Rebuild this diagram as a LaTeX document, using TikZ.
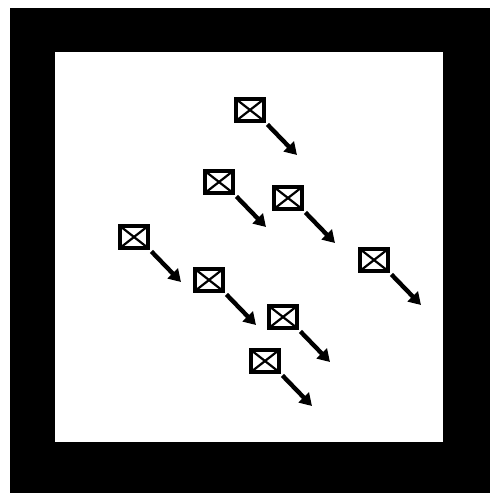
\documentclass[tikz,border=0pt]{standalone}
\usepackage{tikz}
\usepackage{xcolor}
\usetikzlibrary{arrows.meta,positioning,calc}
\definecolor{cA}{HTML}{000000}
\definecolor{cB}{HTML}{ffffff}
\tikzset{
  frame/.style={fill=cA},
  field/.style={fill=cB},
  cell/.style={draw=cA,line width=4.4pt,fill=cB,minimum width=27.6pt,minimum height=21.6pt,inner sep=0pt,
    path picture={\draw[cA,line width=2.2pt] (path picture bounding box.north west)--(path picture bounding box.south east)
      (path picture bounding box.north east)--(path picture bounding box.south west);}},
  move/.style={-{Triangle[length=12pt,width=14pt]},line width=4.4pt,cA,shorten <=2pt},
}

\begin{document}
\begin{tikzpicture}[x=1pt,y=-1pt]
  \useasboundingbox (0,0) rectangle (490,493);
  % black frame
  \fill[frame] (10,8) rectangle (490,493);
  \fill[field] (55,52) rectangle (443,442);
  % boxes with their moves
  \foreach \n/\x/\y in {g/250/110,a/219/182,b/288/198,f/134/237,h/374/260,c/209/280,d/283/317,e/265/361}{
    \node[cell] (box\n) at (\x,\y) {};
    \coordinate (tip\n) at ($(box\n)+(47,45)$);
    \draw[move] (box\n.south east) -- (tip\n);
  }
\end{tikzpicture}
\end{document}
